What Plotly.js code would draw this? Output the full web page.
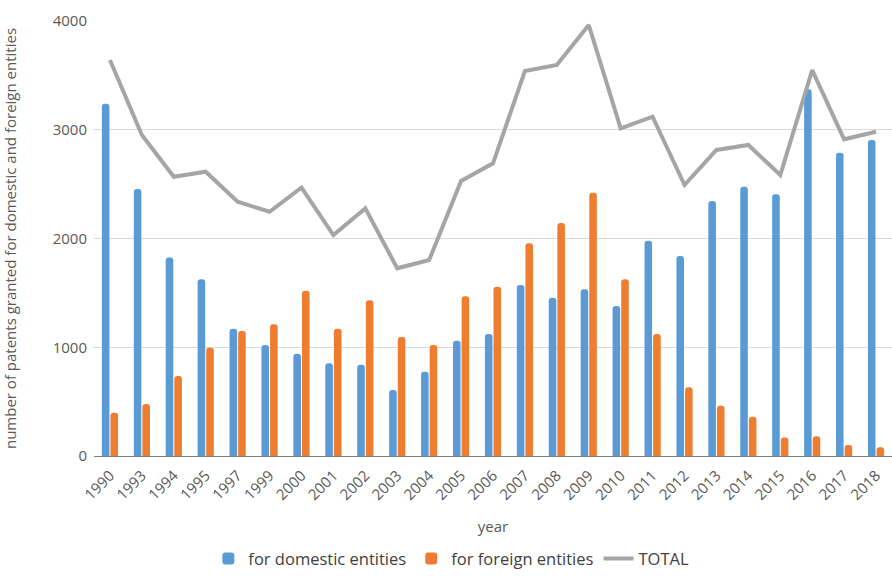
<!DOCTYPE html>
<html>
<head>
<meta charset="utf-8">
<script src="https://cdn.plot.ly/plotly-3.0.1.min.js"></script>
<style>html,body{margin:0;padding:0;background:#fff;}#chart{width:892px;height:576px;}</style>
</head>
<body>
<div id="chart"></div>
<script>
const years = ['1990','1993','1994','1995','1997','1999','2000','2001','2002','2003','2004','2005','2006','2007','2008','2009','2010','2011','2012','2013','2014','2015','2016','2017','2018'];
const domestic = [3240,2455,1825,1625,1170,1020,940,852,840,607,775,1060,1122,1572,1456,1533,1379,1980,1840,2345,2476,2406,3372,2789,2906];
const foreign = [398,478,736,996,1149,1211,1520,1171,1432,1094,1021,1468,1557,1956,2142,2421,1625,1122,632,463,362,169,181,101,80];
const total = [3641,2952,2568,2614,2338,2246,2467,2032,2277,1726,1802,2529,2691,3540,3595,3963,3013,3120,2492,2814,2860,2584,3549,2912,2982];

const font = {family: 'Open Sans, sans-serif', size: 15, color: '#595959'};
const data = [
  {type:'bar', name:'for domestic entities', x:years, y:domestic, marker:{color:'#5B9BD5', cornerradius:3}},
  {type:'bar', name:'for foreign entities', x:years, y:foreign, marker:{color:'#ED7D31', cornerradius:3}},
  {type:'scatter', mode:'lines', name:'TOTAL', x:years, y:total, line:{color:'#A5A5A5', width:4}}
];
const layout = {
  width:892, height:576,
  margin:{l:94, r:0, t:21, b:120},
  paper_bgcolor:'#fff', plot_bgcolor:'#fff',
  font: font,
  barmode:'group', bargap:0.46, bargroupgap:0.12,
  showlegend:true,
  legend:{orientation:'h', xref:'container', yref:'container', x:0.506, xanchor:'center', y:0.03, yanchor:'middle',
    font:{family:'Open Sans, sans-serif', size:16.5, color:'#404040'}, traceorder:'normal'},
  xaxis:{type:'category', automargin:false, tickangle:-45, showgrid:false, showline:true, linecolor:'#7f7f7f', linewidth:1, ticks:'', ticklabelstandoff:4, tickfont:font,
    title:{text:'year', font:font, standoff:18}},
  yaxis:{range:[0,4000], automargin:false, tickvals:[0,1000,2000,3000,4000], showgrid:true, gridcolor:'#d9d9d9', gridwidth:1, zeroline:false, showline:false, ticks:'', ticklabelstandoff:6, tickfont:font,
    title:{text:'number of patents granted for domestic and foreign entities', font:font, standoff:32}}
};
Plotly.newPlot('chart', data, layout, {displayModeBar:false, staticPlot:true});
</script>
</body>
</html>
